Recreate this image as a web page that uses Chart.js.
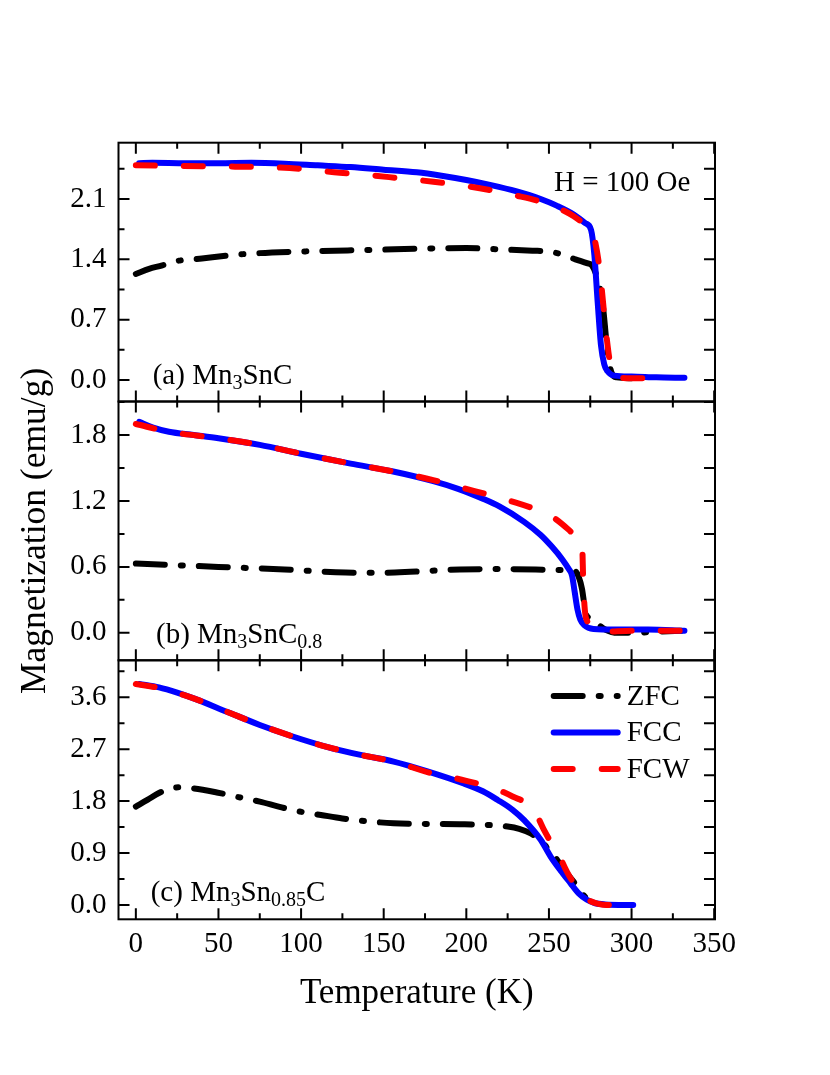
<!DOCTYPE html>
<html>
<head>
<meta charset="utf-8">
<script src="https://cdn.jsdelivr.net/npm/chart.js@4.4.1/dist/chart.umd.min.js"></script>
<style>
    body { margin: 0; background: #fff; }
    #quadro { position: relative; width: 830px; height: 1075px; }
    #quadro canvas { position: absolute; left: 0; top: 0; }
</style>
</head>
<body>
<div id="quadro">
    <canvas id="painelA" width="830" height="1075"></canvas>
    <canvas id="painelB" width="830" height="1075"></canvas>
    <canvas id="painelC" width="830" height="1075"></canvas>
</div>
<script>
// shared temperature axis
var xTicks = [0, 50, 100, 150, 200, 250, 300, 350];

// (a) Mn3SnC
var yTicksA = [0.0, 0.7, 1.4, 2.1];
var tZfcA = [0, 8, 16, 22, 40, 65, 100, 145, 175, 200, 220, 240, 250, 259, 266, 273, 276, 279, 281, 283, 284.5, 286, 288, 291, 300];
var mZfcA = [1.23, 1.29, 1.33, 1.37, 1.41, 1.46, 1.49, 1.51, 1.525, 1.53, 1.515, 1.50, 1.49, 1.45, 1.40, 1.355, 1.33, 1.20, 1.05, 0.80, 0.50, 0.25, 0.08, 0.03, 0.02];
var tFccA = [2, 10, 30, 50, 70, 90, 110, 130, 150, 170, 185, 200, 215, 230, 245, 255, 265, 272, 275.5, 277.5, 279.5, 281.5, 283.5, 285.5, 289.5, 300, 315, 332];
var mFccA = [2.515, 2.52, 2.515, 2.515, 2.52, 2.51, 2.49, 2.47, 2.44, 2.41, 2.37, 2.32, 2.26, 2.19, 2.10, 2.02, 1.92, 1.82, 1.74, 1.45, 0.90, 0.40, 0.18, 0.10, 0.05, 0.04, 0.03, 0.025];
var tFcwA = [0, 20, 40, 60, 80, 100, 120, 140, 160, 180, 200, 215, 230, 245, 255, 265, 272, 276, 278, 280, 282, 283.5, 285.5, 287, 289, 292, 300, 318];
var mFcwA = [2.49, 2.485, 2.48, 2.475, 2.47, 2.45, 2.41, 2.38, 2.34, 2.30, 2.25, 2.20, 2.14, 2.07, 2.00, 1.90, 1.80, 1.74, 1.60, 1.38, 1.05, 0.75, 0.40, 0.20, 0.07, 0.03, 0.02, 0.02];

// (b) Mn3SnC0.8
var yTicksB = [0.0, 0.6, 1.2, 1.8];
var tZfcB = [0, 25, 50, 90, 127, 145, 166, 196, 220, 242, 255, 263, 266, 268, 270, 271, 272, 275, 279, 284, 291.6, 300, 315, 330];
var mZfcB = [0.63, 0.615, 0.60, 0.577, 0.548, 0.546, 0.555, 0.577, 0.58, 0.577, 0.571, 0.57, 0.56, 0.51, 0.40, 0.30, 0.19, 0.13, 0.085, 0.03, 0.0, 0.0, 0.01, 0.02];
var tFccB = [2, 10, 20, 35, 50, 75, 100, 130, 155, 180, 195, 210, 220, 235, 245, 252, 258, 262, 264, 265.5, 267.3, 269, 271.3, 277, 290, 310, 332];
var mFccB = [1.92, 1.87, 1.83, 1.80, 1.77, 1.71, 1.63, 1.54, 1.47, 1.38, 1.31, 1.22, 1.15, 1.01, 0.89, 0.78, 0.67, 0.58, 0.52, 0.38, 0.21, 0.12, 0.07, 0.035, 0.03, 0.03, 0.02];
var tFcwB = [0, 20, 50, 75, 100, 130, 155, 180, 200, 215, 230, 240, 250, 258, 264, 268, 270, 270.8, 271.5, 272.5, 278, 283, 300, 330];
var mFcwB = [1.90, 1.83, 1.77, 1.71, 1.63, 1.54, 1.47, 1.39, 1.31, 1.25, 1.185, 1.135, 1.075, 0.99, 0.91, 0.86, 0.83, 0.45, 0.25, 0.13, 0.05, 0.01, 0.02, 0.02];

// (c) Mn3Sn0.85C
var yTicksC = [0.0, 0.9, 1.8, 2.7, 3.6];
var tZfcC = [0, 7, 14, 20, 26, 35, 49, 62, 75, 87, 99, 112, 125, 140, 156, 176, 196, 211, 225, 232, 239, 245, 250, 255, 259, 265, 270, 275];
var mZfcC = [1.705, 1.82, 1.94, 2.01, 2.04, 2.02, 1.95, 1.87, 1.79, 1.70, 1.62, 1.56, 1.50, 1.45, 1.417, 1.405, 1.40, 1.39, 1.36, 1.32, 1.24, 1.12, 0.95, 0.78, 0.62, 0.40, 0.20, 0.05];
var tFccC = [2, 14, 25, 35, 55, 75, 95, 115, 136, 156, 176, 198, 210, 219, 228, 235, 245, 251, 257, 263, 268, 273, 278, 284, 301];
var mFccC = [3.83, 3.77, 3.68, 3.58, 3.35, 3.12, 2.92, 2.745, 2.60, 2.485, 2.32, 2.11, 1.97, 1.82, 1.65, 1.47, 1.13, 0.84, 0.60, 0.38, 0.20, 0.09, 0.03, 0.01, 0.0];
var tFcwC = [0, 14, 35, 55, 75, 95, 115, 136, 156, 178, 190, 200, 214, 228, 240, 244, 247, 251, 255.6, 258, 261, 265, 270, 275, 280, 285, 301];
var mFcwC = [3.83, 3.76, 3.58, 3.35, 3.12, 2.92, 2.745, 2.60, 2.485, 2.29, 2.22, 2.15, 2.05, 1.88, 1.68, 1.48, 1.30, 1.10, 0.92, 0.75, 0.57, 0.38, 0.20, 0.07, 0.02, 0.0, 0.0];

var fonte = "'Liberation Serif', 'Times New Roman', serif";

function pontos(ts, ms) {
    return ts.map(function(t, i) { return { x: t, y: ms[i] }; });
}

function criarSeries(zfc, fcc, fcw) {
    var base = { pointRadius: 0, borderWidth: 6, fill: false, cubicInterpolationMode: 'monotone', borderJoinStyle: 'round' };
    return [
        Object.assign({}, base, { label: 'ZFC', data: zfc, borderColor: '#000000', borderDash: [29, 16, 2, 16], borderCapStyle: 'round', order: 3 }),
        Object.assign({}, base, { label: 'FCC', data: fcc, borderColor: '#0000ff', borderCapStyle: 'round', order: 2 }),
        Object.assign({}, base, { label: 'FCW', data: fcw, borderColor: '#ff0000', borderDash: [19, 29], borderCapStyle: 'round', order: 1 })
    ];
}

// frame with inward ticks on all four sides
var moldura = {
    id: 'moldura',
    afterDraw: function(chart, args, opts) {
        var ctx = chart.ctx;
        var a = chart.chartArea;
        var x = chart.scales.x;
        var y = chart.scales.y;
        ctx.save();
        ctx.strokeStyle = '#000';
        ctx.lineWidth = 2;
        ctx.strokeRect(a.left, a.top, a.right - a.left, a.bottom - a.top);
        ctx.beginPath();
        for (var i = 0; i < xTicks.length; i++) {
            var marcas = [[xTicks[i], 11]];
            if (i < xTicks.length - 1) marcas.push([(xTicks[i] + xTicks[i + 1]) / 2, 6]);
            marcas.forEach(function(m) {
                var px = x.getPixelForValue(m[0]);
                ctx.moveTo(px, a.bottom); ctx.lineTo(px, a.bottom - m[1]);
                ctx.moveTo(px, a.top); ctx.lineTo(px, a.top + m[1]);
            });
        }
        var passo = opts.yTicks[1] - opts.yTicks[0];
        opts.yTicks.forEach(function(v) {
            [[v, 11], [v + passo / 2, 6]].forEach(function(m) {
                if (m[0] >= y.max - 1e-6) return;
                var py = y.getPixelForValue(m[0]);
                ctx.moveTo(a.left, py); ctx.lineTo(a.left + m[1], py);
                ctx.moveTo(a.right, py); ctx.lineTo(a.right - 11, py);
            });
        });
        ctx.stroke();
        ctx.restore();
    }
};

// panel labels, field note and legend
var textos = {
    id: 'textos',
    afterDraw: function(chart, args, opts) {
        var ctx = chart.ctx;
        var a = chart.chartArea;
        ctx.save();
        ctx.fillStyle = '#000';
        ctx.textBaseline = 'alphabetic';
        (opts.itens || []).forEach(function(item) {
            var px = item.dx >= 0 ? a.left + item.dx : a.right + item.dx;
            var py = item.dy >= 0 ? a.top + item.dy : a.bottom + item.dy;
            item.partes.forEach(function(p) {
                ctx.font = (p.sub ? 20 : 29) + 'px ' + fonte;
                ctx.fillText(p.t, px, py + (p.sub ? 5 : 0));
                px += ctx.measureText(p.t).width;
            });
        });
        if (opts.legenda) {
            var ordem = ['ZFC', 'FCC', 'FCW'];
            ordem.forEach(function(nome, i) {
                var ds = chart.data.datasets.filter(function(d) { return d.label === nome; })[0];
                var py = a.top + 35.7 + i * 36.5;
                ctx.beginPath();
                ctx.setLineDash(ds.borderDash || []);
                ctx.lineCap = 'round';
                ctx.lineWidth = ds.borderWidth;
                ctx.strokeStyle = ds.borderColor;
                ctx.moveTo(a.right - 161.3, py);
                ctx.lineTo(a.right - 97.3, py);
                ctx.stroke();
                ctx.setLineDash([]);
                ctx.font = '29px ' + fonte;
                ctx.textBaseline = 'middle';
                ctx.fillText(ds.label, a.right - 88.3, py + 1);
            });
        }
        ctx.restore();
    }
};

function criarGrafico(id, cfg) {
    var ctx = document.getElementById(id).getContext('2d');
    return new Chart(ctx, {
        type: 'line',
        data: { datasets: cfg.series },
        options: {
            responsive: false,
            animation: false,
            devicePixelRatio: 1,
            layout: { padding: { left: 10, right: 115, top: cfg.top, bottom: cfg.bottom } },
            plugins: {
                legend: { display: false },
                tooltip: { enabled: false },
                moldura: { yTicks: cfg.yTicks },
                textos: { itens: cfg.itens, legenda: cfg.legenda }
            },
            scales: {
                x: {
                    type: 'linear',
                    min: -10.5,
                    max: 350.5,
                    display: cfg.eixoX,
                    grid: { display: false, drawTicks: false },
                    border: { display: false },
                    ticks: {
                        color: '#000',
                        padding: 8,
                        autoSkip: false,
                        maxRotation: 0,
                        font: { family: fonte, size: 29 },
                        callback: function(v) { return String(v); }
                    },
                    title: { display: cfg.eixoX, text: 'Temperature (K)', color: '#000', font: { family: fonte, size: 35 } },
                    afterBuildTicks: function(s) { s.ticks = xTicks.map(function(v) { return { value: v }; }); },
                    afterFit: function(s) { if (cfg.eixoX) s.height = 99.2; }
                },
                y: {
                    min: cfg.yMin,
                    max: cfg.yMax,
                    grid: { display: false, drawTicks: false },
                    border: { display: false },
                    ticks: {
                        color: '#000',
                        padding: 12,
                        font: { family: fonte, size: 29 },
                        callback: function(v) { return v.toFixed(1); }
                    },
                    title: { display: cfg.tituloY, text: 'Magnetization (emu/g)', color: '#000', font: { family: fonte, size: 35.5 } },
                    afterBuildTicks: function(s) { s.ticks = cfg.yTicks.map(function(v) { return { value: v }; }); },
                    afterFit: function(s) { s.width = 108.5; }
                }
            }
        },
        plugins: [moldura, textos]
    });
}

window.onload = function() {
    criarGrafico('painelA', {
        series: criarSeries(pontos(tZfcA, mZfcA), pontos(tFccA, mFccA), pontos(tFcwA, mFcwA)),
        yTicks: yTicksA, yMin: -0.25, yMax: 2.753,
        top: 142.7, bottom: 673.5, eixoX: false, tituloY: false,
        itens: [
            { dx: 34.2, dy: -17.5, partes: [{ t: '(a) Mn' }, { t: '3', sub: true }, { t: 'SnC' }] },
            { dx: -161, dy: 48.3, partes: [{ t: 'H = 100 Oe' }] }
        ]
    });
    criarGrafico('painelB', {
        series: criarSeries(pontos(tZfcB, mZfcB), pontos(tFccB, mFccB), pontos(tFcwB, mFcwB)),
        yTicks: yTicksB, yMin: -0.25, yMax: 2.105,
        top: 401.5, bottom: 414.7, eixoX: false, tituloY: true,
        itens: [
            { dx: 37.5, dy: -17.8, partes: [{ t: '(b) Mn' }, { t: '3', sub: true }, { t: 'SnC' }, { t: '0.8', sub: true }] }
        ]
    });
    criarGrafico('painelC', {
        series: criarSeries(pontos(tZfcC, mZfcC), pontos(tFccC, mFccC), pontos(tFcwC, mFcwC)),
        yTicks: yTicksC, yMin: -0.248, yMax: 4.24,
        top: 660.3, bottom: 56.5, eixoX: true, tituloY: false, legenda: true,
        itens: [
            { dx: 32.2, dy: -18.3, partes: [{ t: '(c) Mn' }, { t: '3', sub: true }, { t: 'Sn' }, { t: '0.85', sub: true }, { t: 'C' }] }
        ]
    });
}
</script>
</body>
</html>
